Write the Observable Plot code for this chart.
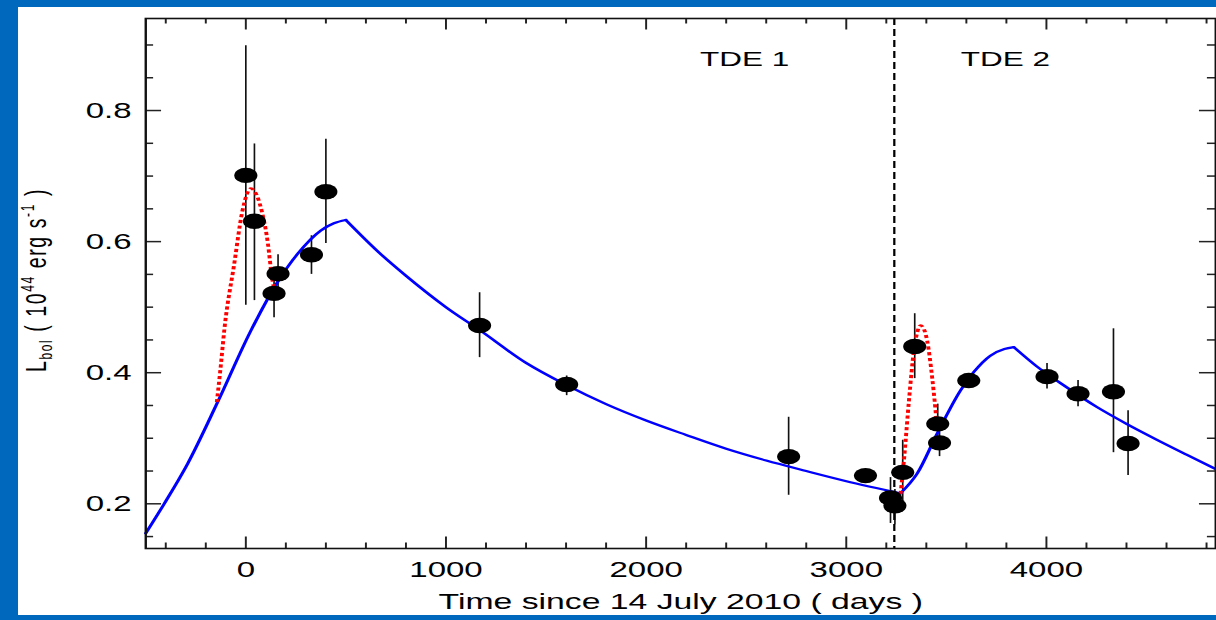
<!DOCTYPE html>
<html>
<head>
<meta charset="utf-8">
<script src="https://cdn.jsdelivr.net/npm/d3@7"></script>
<script src="https://cdn.jsdelivr.net/npm/@observablehq/plot@0.6"></script>
<style>
  html, body { margin: 0; padding: 0; width: 1216px; height: 620px; overflow: hidden; background: #0068bd; }
  #wrap { position: absolute; left: 18px; top: 7px; width: 1198px; height: 608px; background: #fff; overflow: hidden; }
  #chart svg { transform: scaleX(1.5); transform-origin: 0 0; max-width: none !important; }
</style>
</head>
<body>
<div id="wrap"><div id="chart"></div></div>
<script>
// ---- observations (days since 14 July 2010, L_bol in 1e44 erg/s) ----
const obsDay = [0, 43, 161, 141, 328, 400, 1168, 1603, 2712, 3096, 3221, 3243, 3282, 3342, 3457, 3466, 3612, 4003, 4158, 4335, 4408];
const obsL   = [0.701, 0.631, 0.551, 0.521, 0.580, 0.676, 0.472, 0.382, 0.272, 0.243, 0.209, 0.197, 0.248, 0.440, 0.322, 0.293, 0.388, 0.394, 0.368, 0.371, 0.292];
const obsLo  = [0.503, 0.510, 0.520, 0.484, 0.550, 0.597, 0.423, 0.365, 0.213, 0.243, 0.170, 0.168, 0.200, 0.391, 0.300, 0.272, 0.388, 0.375, 0.348, 0.278, 0.243];
const obsHi  = [0.899, 0.749, 0.580, 0.558, 0.609, 0.756, 0.522, 0.395, 0.332, 0.243, 0.240, 0.222, 0.297, 0.490, 0.352, 0.315, 0.388, 0.414, 0.388, 0.467, 0.342];

// ---- model curve (blue) ----
const rise1Day = [-500, -408, -291, -141, 25, 158, 258, 375, 440, 500];
const rise1L   = [0.155, 0.200, 0.261, 0.355, 0.464, 0.538, 0.581, 0.617, 0.628, 0.633];
const decay1Day = [500, 674, 800, 1000, 1168, 1400, 1603, 1800, 2000, 2200, 2400, 2600, 2800, 3021, 3150, 3271];
const decay1L   = [0.633, 0.581, 0.548, 0.500, 0.465, 0.415, 0.381, 0.352, 0.327, 0.305, 0.284, 0.266, 0.250, 0.233, 0.224, 0.216];
const rise2Day = [3271, 3354, 3454, 3571, 3637, 3720, 3790, 3837];
const rise2L   = [0.216, 0.246, 0.307, 0.373, 0.401, 0.426, 0.436, 0.439];
const decay2Day = [3837, 3950, 4100, 4250, 4400, 4550, 4700, 4846];
const decay2L   = [0.439, 0.410, 0.378, 0.348, 0.322, 0.298, 0.275, 0.253];

// ---- flare curves (red dotted) ----
const flare1Day = [-145, -125, -108, -58, -17, 25, 75, 108, 133, 140];
const flare1L   = [0.355, 0.411, 0.464, 0.566, 0.647, 0.681, 0.652, 0.602, 0.541, 0.530];
const flare2Day = [3271, 3288, 3313, 3338, 3355, 3371, 3390, 3404, 3429, 3446, 3455];
const flare2L   = [0.215, 0.266, 0.357, 0.434, 0.462, 0.472, 0.465, 0.449, 0.393, 0.342, 0.310];

// ---- separator and labels ----
const tdeSplitDay = [3240];
const tdeLabels = ["TDE 1", "TDE 2"];
const tdeLabelDay = [2492, 3795];
const tdeLabelL = [0.878, 0.878];

// ---- ticks ----
const xMajorTicks = [0, 1000, 2000, 3000, 4000];
const xMinorTicks = [-400, -200, 200, 400, 600, 800, 1200, 1400, 1600, 1800, 2200, 2400, 2600, 2800, 3200, 3400, 3600, 3800, 4200, 4400, 4600, 4800];
const yMajorTicks = [0.2, 0.4, 0.6, 0.8];
const yMinorTicks = [0.15, 0.25, 0.3, 0.35, 0.45, 0.5, 0.55, 0.65, 0.7, 0.75, 0.85, 0.9];

const xTitle = "Time since 14 July 2010 ( days )";

// ---- tables ----
const obs = obsDay.map((d, i) => ({day: d, L: obsL[i], lo: obsLo[i], hi: obsHi[i]}));
const seg = (name, days, ls) => days.map((d, i) => ({seg: name, day: d, L: ls[i]}));
const model = [
  ...seg("rise1", rise1Day, rise1L),
  ...seg("decay1", decay1Day, decay1L),
  ...seg("rise2", rise2Day, rise2L),
  ...seg("decay2", decay2Day, decay2L)
];
const flares = [...seg("f1", flare1Day, flare1L), ...seg("f2", flare2Day, flare2L)];
const tde = tdeLabels.map((t, i) => ({t, day: tdeLabelDay[i], L: tdeLabelL[i]}));

const W = 799, H = 608;
const mL = 84.67, mR = 1, mT = 11, mB = 67;
const innerW = W - mL - mR, innerH = H - mT - mB;
const font = "'Liberation Sans', Arial, Helvetica, sans-serif";
const tickColor = "#222";

const plot = Plot.plot({
  width: W, height: H,
  marginLeft: mL, marginRight: mR, marginTop: mT, marginBottom: mB,
  x: {domain: [-500, 4846]},
  y: {domain: [0.1318, 0.9404]},
  style: {fontFamily: font, fontSize: "22px", color: "black", background: "white", overflow: "visible"},
  marks: [
    Plot.ruleX(obs, {x: "day", y1: "lo", y2: "hi", stroke: "#111", strokeWidth: 1.1}),
    Plot.line(model, {x: "day", y: "L", z: "seg", stroke: "#0000ff", strokeWidth: 2.2, curve: "monotone-x"}),
    Plot.line(flares, {x: "day", y: "L", z: "seg", stroke: "#ff0000", strokeWidth: 2.6, strokeDasharray: "3.2,2.6", strokeLinecap: "butt", strokeLinejoin: "miter", curve: "monotone-x"}),
    Plot.dot(obs, {x: "day", y: "L", r: 7.7, fill: "black", stroke: null}),
    Plot.ruleX(tdeSplitDay, {x: d => d, stroke: "black", strokeWidth: 1.5, strokeDasharray: "7,4", strokeLinecap: "butt"}),
    // inward ticks, bottom and top
    Plot.tickX(xMajorTicks, {x: d => d, stroke: tickColor, strokeWidth: 1.3, insetTop: innerH - 11.5}),
    Plot.tickX(xMinorTicks, {x: d => d, stroke: tickColor, strokeWidth: 1.3, insetTop: innerH - 5.5}),
    Plot.tickX(xMajorTicks, {x: d => d, stroke: tickColor, strokeWidth: 1.3, insetBottom: innerH - 11.5}),
    Plot.tickX(xMinorTicks, {x: d => d, stroke: tickColor, strokeWidth: 1.3, insetBottom: innerH - 5.5}),
    // inward ticks, left and right
    Plot.tickY(yMajorTicks, {y: d => d, stroke: tickColor, strokeWidth: 1.5, insetRight: innerW - 10.7}),
    Plot.tickY(yMinorTicks, {y: d => d, stroke: tickColor, strokeWidth: 1.5, insetRight: innerW - 5.4}),
    Plot.tickY(yMajorTicks, {y: d => d, stroke: tickColor, strokeWidth: 1.5, insetLeft: innerW - 10.7}),
    Plot.tickY(yMinorTicks, {y: d => d, stroke: tickColor, strokeWidth: 1.5, insetLeft: innerW - 5.4}),
    Plot.frame({stroke: "#111", strokeWidth: 1.6}),
    Plot.axisX({ticks: xMajorTicks, anchor: "bottom", tickSize: 0, tickPadding: 13, tickFormat: d => String(d), label: null, fontSize: 22, fill: "black"}),
    Plot.axisY({ticks: yMajorTicks, anchor: "left", tickSize: 0, tickPadding: 9.5, tickFormat: d => d.toFixed(1), label: null, fontSize: 22, fill: "black"}),
    Plot.text([xTitle], {text: d => d, frameAnchor: "bottom", dy: 60, lineAnchor: "bottom", textAnchor: "middle", fontSize: 22.5, fill: "black"}),
    Plot.text(tde, {x: "day", y: "L", text: "t", fontSize: 21, fill: "black", textAnchor: "middle", lineAnchor: "middle"})
  ]
});

// y-axis title with sub/superscripts
const svg = d3.select(plot);
const lab = svg.append("text")
  .attr("transform", `translate(18.5, ${mT + innerH / 2 - 3}) rotate(-90)`)
  .attr("text-anchor", "middle")
  .attr("font-family", font)
  .attr("font-size", 19.5)
  .attr("letter-spacing", 1.6)
  .attr("fill", "black")
  .style("white-space", "pre");
const parts = [
  {t: "L", fs: 19.5, dy: 0},
  {t: "bol", fs: 12, dy: 4},
  {t: " ( 10", fs: 19.5, dy: -4},
  {t: "44", fs: 12, dy: -8},
  {t: " erg s", fs: 19.5, dy: 8},
  {t: "-1", fs: 12, dy: -8},
  {t: " )", fs: 19.5, dy: 8}
];
parts.forEach(p => lab.append("tspan").attr("font-size", p.fs).attr("dy", p.dy).text(p.t));

document.getElementById("chart").appendChild(plot);
</script>
</body>
</html>
